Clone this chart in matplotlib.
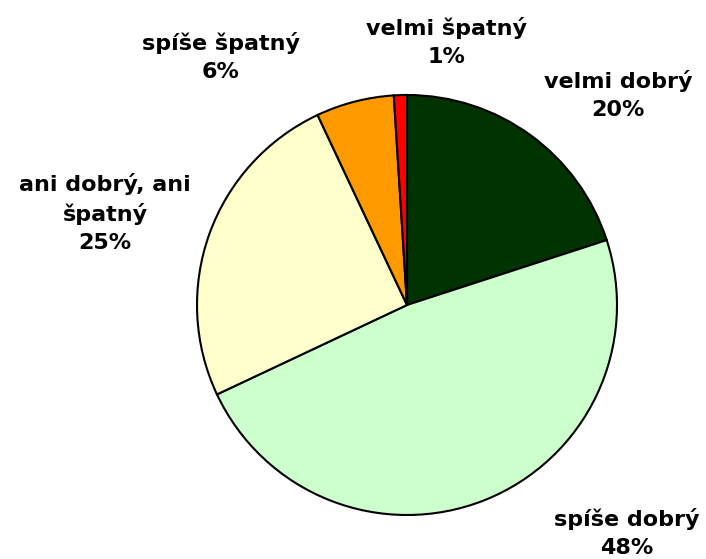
import matplotlib.pyplot as plt

labels = ['velmi dobrý', 'spíše dobrý', 'ani dobrý, ani\nšpatný', 'spíše špatný', 'velmi špatný']
values = [20, 48, 25, 6, 1]
colors = ['#003300', '#CCFFCC', '#FFFFCC', '#FF9900', '#FF0000']

# label centres in axes data units (pie radius = 1)
label_pos = [(1.005, 1.0), (1.048, -1.086), (-1.438, 0.438), (-0.886, 1.181), (0.186, 1.252)]

fig = plt.figure(figsize=(7.06, 5.59), dpi=100)
ax = fig.add_axes([197 / 706, 44 / 559, 420 / 706, 420 / 559])

ax.pie(values, colors=colors, startangle=90, counterclock=False, radius=1,
       wedgeprops=dict(edgecolor='black', linewidth=1.5))
ax.set_xlim(-1, 1)
ax.set_ylim(-1, 1)
ax.set_aspect('equal')
ax.axis('off')

for lab, val, (x, y) in zip(labels, values, label_pos):
    ax.text(x, y, f'{lab}\n{val}%', ha='center', va='center', fontsize=16,
            fontweight='bold', family='DejaVu Sans', linespacing=1.45, clip_on=False)

fig.savefig('out.png', dpi=100)
